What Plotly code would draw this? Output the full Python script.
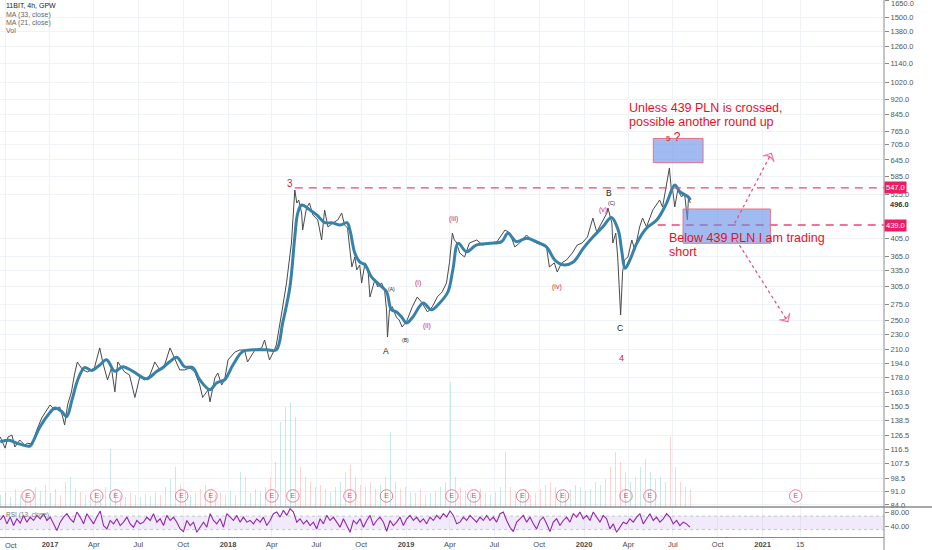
import numpy as np
import pandas as pd
import plotly.graph_objects as go

# ---------------- data ----------------
price_dates = [
    "2016-09-21", "2016-10-01", "2016-10-07", "2016-10-15", "2016-10-21", "2016-10-31", "2016-11-10", "2016-11-16",
    "2016-11-26", "2016-12-05", "2016-12-15", "2016-12-23", "2017-01-01", "2017-01-11", "2017-01-21", "2017-01-27",
    "2017-01-31", "2017-02-06", "2017-02-14", "2017-02-20", "2017-02-26", "2017-03-09", "2017-03-19", "2017-04-02",
    "2017-04-13", "2017-04-19", "2017-04-29", "2017-05-07", "2017-05-14", "2017-05-20", "2017-06-03", "2017-06-13",
    "2017-06-24", "2017-07-04", "2017-07-14", "2017-07-25", "2017-08-04", "2017-08-14", "2017-08-24", "2017-09-04",
    "2017-09-14", "2017-09-24", "2017-10-04", "2017-10-15", "2017-10-25", "2017-11-04", "2017-11-10", "2017-11-21",
    "2017-11-25", "2017-12-05", "2017-12-11", "2017-12-19", "2017-12-25", "2018-01-01", "2018-01-15", "2018-01-25",
    "2018-02-04", "2018-02-10", "2018-02-25", "2018-03-11", "2018-03-17", "2018-03-27", "2018-04-06", "2018-04-10",
    "2018-04-21", "2018-05-01", "2018-05-11", "2018-05-18", "2018-05-22", "2018-05-26", "2018-06-01", "2018-06-03",
    "2018-06-11", "2018-06-17", "2018-06-24", "2018-07-04", "2018-07-12", "2018-07-18", "2018-07-25", "2018-08-04",
    "2018-08-14", "2018-08-22", "2018-08-28", "2018-09-03", "2018-09-08", "2018-09-12", "2018-09-18", "2018-09-22",
    "2018-09-28", "2018-10-02", "2018-10-09", "2018-10-15", "2018-10-19", "2018-10-29", "2018-11-04", "2018-11-12",
    "2018-11-18", "2018-11-22", "2018-11-24", "2018-11-28", "2018-12-04", "2018-12-12", "2018-12-18", "2018-12-24",
    "2019-01-02", "2019-01-08", "2019-01-14", "2019-01-24", "2019-02-03", "2019-02-14", "2019-02-24", "2019-03-06",
    "2019-03-16", "2019-03-25", "2019-03-31", "2019-04-06", "2019-04-10", "2019-04-14", "2019-04-21", "2019-05-01",
    "2019-05-11", "2019-05-26", "2019-06-07", "2019-06-22", "2019-07-06", "2019-07-23", "2019-08-02", "2019-08-12",
    "2019-08-22", "2019-09-05", "2019-09-15", "2019-09-25", "2019-10-07", "2019-10-16", "2019-10-22", "2019-11-01",
    "2019-11-07", "2019-11-16", "2019-11-26", "2019-12-08", "2019-12-18", "2019-12-28", "2020-01-08", "2020-01-19",
    "2020-01-27", "2020-02-06", "2020-02-17", "2020-02-19", "2020-02-27", "2020-02-29", "2020-03-06", "2020-03-10",
    "2020-03-12", "2020-03-16", "2020-03-20", "2020-03-24", "2020-03-31", "2020-04-08", "2020-04-14", "2020-04-24",
    "2020-04-30", "2020-05-08", "2020-05-21", "2020-06-04", "2020-06-10", "2020-06-18", "2020-06-24", "2020-06-28",
    "2020-06-30", "2020-07-05", "2020-07-11", "2020-07-19", "2020-07-25", "2020-07-31", "2020-08-02", "2020-08-06",
]
price_close = [
    125.5, 117.5, 125.5, 127.0, 118.3, 123.3, 119.7, 121.0,
    120.4, 130.8, 140.4, 145.4, 151.6, 147.2, 149.8, 141.3,
    134.7, 151.6, 163.8, 181.0, 195.5, 186.5, 184.3, 188.7,
    212.4, 195.5, 175.8, 188.7, 163.8, 195.5, 184.3, 181.0,
    158.5, 178.9, 175.8, 181.0, 195.5, 186.5, 192.0, 212.4,
    200.0, 186.5, 186.5, 188.7, 184.3, 170.6, 158.5, 165.7,
    154.4, 177.9, 183.2, 170.6, 175.8, 197.8, 207.3, 209.8,
    209.8, 195.5, 209.8, 212.4, 222.6, 197.8, 209.8, 216.1,
    261.0, 311.8, 394.8, 539.9, 500.0, 508.9, 471.3, 426.3,
    485.5, 500.0, 465.8, 452.2, 401.9, 479.8, 433.9, 444.4,
    452.2, 471.3, 439.1, 431.4, 378.8, 342.7, 363.5, 336.6,
    346.7, 311.8, 351.0, 336.6, 287.0, 317.3, 304.5, 311.8,
    299.1, 265.8, 226.6, 265.8, 271.0, 255.0, 250.5, 240.4,
    248.3, 261.0, 271.0, 287.0, 277.0, 262.6, 271.0, 287.0,
    295.6, 311.8, 351.0, 418.8, 401.9, 397.1, 372.1, 363.5,
    394.8, 401.9, 390.1, 394.8, 397.1, 426.3, 418.8, 385.6,
    394.8, 413.9, 401.9, 394.8, 390.1, 385.6, 342.7, 351.0,
    332.7, 351.0, 357.1, 372.1, 390.1, 394.8, 409.0, 457.5,
    421.3, 444.4, 471.3, 485.5, 444.4, 394.8, 418.8, 363.5,
    317.3, 258.0, 332.7, 357.1, 363.5, 401.9, 378.8, 434.2,
    457.5, 434.2, 479.8, 508.9, 488.3, 562.7, 615.0, 539.9,
    549.6, 488.3, 539.9, 518.0, 530.5, 452.2, 515.0, 500.0,
]

ma_dates = [
    "2016-09-21", "2016-10-11", "2016-10-25", "2016-11-21", "2016-11-27", "2016-12-11", "2017-01-01", "2017-01-11",
    "2017-01-25", "2017-02-04", "2017-02-15", "2017-02-27", "2017-03-13", "2017-03-28", "2017-04-13", "2017-04-27",
    "2017-05-14", "2017-05-30", "2017-06-20", "2017-07-18", "2017-08-08", "2017-08-20", "2017-09-04", "2017-09-18",
    "2017-10-04", "2017-10-21", "2017-11-04", "2017-11-25", "2017-12-09", "2017-12-25", "2018-01-11", "2018-01-31",
    "2018-02-21", "2018-03-22", "2018-04-10", "2018-04-23", "2018-05-08", "2018-05-18", "2018-05-24", "2018-06-01",
    "2018-06-18", "2018-07-02", "2018-07-19", "2018-08-02", "2018-08-19", "2018-09-02", "2018-09-08", "2018-09-18",
    "2018-09-28", "2018-10-09", "2018-10-22", "2018-11-08", "2018-11-22", "2018-12-02", "2018-12-12", "2018-12-23",
    "2019-01-02", "2019-01-15", "2019-02-05", "2019-02-22", "2019-03-11", "2019-03-28", "2019-04-07", "2019-04-18",
    "2019-05-05", "2019-05-25", "2019-06-22", "2019-07-16", "2019-07-29", "2019-08-15", "2019-09-05", "2019-09-25",
    "2019-10-16", "2019-11-02", "2019-11-19", "2019-12-10", "2019-12-30", "2020-01-20", "2020-02-09", "2020-02-26",
    "2020-03-11", "2020-03-18", "2020-03-25", "2020-04-04", "2020-04-18", "2020-05-08", "2020-05-29", "2020-06-18",
    "2020-07-05", "2020-07-15", "2020-08-01", "2020-08-06",
]
ma_values = [
    122, 123, 121, 119, 122, 133, 145, 149,
    146, 141.5, 156, 176, 189, 186, 192, 198,
    185, 190, 185, 177, 185, 189, 196, 201,
    190, 189, 176, 166, 173, 176, 192, 208,
    210, 210, 210, 246, 305, 410, 471, 494,
    480, 466, 445, 445, 439, 445, 426, 372,
    353, 347, 323, 308, 296, 266, 263, 255,
    246, 255, 277, 266, 277, 296, 337, 394,
    375, 390, 394, 398, 418, 398, 406, 398,
    386, 357, 347, 353, 382, 410, 435, 459,
    426, 379, 340, 357, 394, 431, 452, 499,
    556, 535, 519, 509,
]

rsi_values = [
    59, 72, 47, 67, 42, 62, 49, 72, 52, 67, 57, 72, 62, 77, 57, 67, 47, 27, 52, 67,
    77, 62, 52, 82, 67, 47, 77, 62, 47, 67, 85, 42, 32, 57, 47, 62, 42, 52, 67, 47,
    37, 57, 47, 52, 67, 57, 77, 52, 62, 42, 72, 57, 67, 52, 32, 24, 57, 42, 52, 22,
    37, 52, 37, 77, 57, 47, 62, 37, 77, 67, 57, 72, 52, 67, 52, 57, 47, 62, 52, 67,
    42, 57, 77, 82, 67, 87, 72, 92, 82, 52, 62, 47, 57, 42, 52, 32, 62, 47, 72, 57,
    67, 52, 37, 62, 42, 22, 57, 47, 62, 37, 57, 72, 42, 57, 67, 52, 25, 57, 42, 52,
    67, 42, 62, 72, 57, 67, 52, 62, 47, 67, 57, 72, 62, 77, 67, 85, 72, 47,
    52, 67, 57, 72, 62, 52, 67, 57, 72, 57, 67, 52, 77, 82, 57, 37, 24, 52, 62, 72,
    52, 67, 47, 32, 57, 67, 47, 24, 52, 62, 42, 57, 67, 52, 77, 67, 82, 62, 72, 57,
    82, 67, 52, 72, 62, 32, 47, 22, 37, 52, 47, 62, 52, 67, 77, 47, 62, 77, 57, 67,
    52, 62, 77, 67, 47, 57, 42, 52, 47, 37,
]
rsi_first, rsi_last = "2016-09-21", "2020-08-05"

vol_values = [
    12, 15, 10, 18, 12, 14, 10, 20, 16, 22, 14, 18, 12, 25, 30, 18, 15, 12, 10, 14,
    12, 20, 58, 16, 12, 10, 14, 12, 10, 13, 11, 15, 12, 20, 28, 40, 22, 15, 12, 14,
    18, 22, 16, 12, 14, 12, 16, 12, 35, 30, 14, 18, 16, 20, 30, 45, 85, 100, 105, 90,
    40, 30, 25, 20, 22, 18, 15, 20, 25, 35, 42, 30, 22, 20, 25, 18, 22, 30, 75, 25,
    18, 20, 15, 14, 18, 12, 14, 16, 20, 25, 125, 30, 20, 16, 14, 12, 18, 14, 12, 15,
    20, 55, 20, 16, 14, 18, 12, 14, 18, 22, 25, 20, 16, 14, 18, 22, 20, 16, 18, 25,
    22, 28, 40, 55, 45, 35, 25, 30, 40, 48, 35, 28, 30, 25, 70, 40, 25, 20, 18,
]
vol_first, vol_last = "2016-09-21", "2020-08-06"

earnings_dates = [
    "2016-11-17", "2017-04-07", "2017-05-16", "2017-09-28", "2017-11-27", "2018-04-01", "2018-05-14", "2018-09-08",
    "2018-11-22", "2019-04-05", "2019-05-20", "2019-08-28", "2019-11-18", "2020-03-27", "2020-05-15", "2021-03-10",
]

price_ticks = [1650, 1500, 1380, 1260, 1140, 1020, 920, 845, 765, 705, 645, 585, 525, 405, 365, 335, 305, 275,
               250, 230, 210, 194, 178, 163, 150.5, 138.5, 126.5, 116.5, 107.5, 98.5, 91, 84]
x_tick_dates = ["2016-10-01", "2017-01-01", "2017-04-01", "2017-07-01", "2017-10-01", "2018-01-01", "2018-04-01",
                "2018-07-01", "2018-10-01", "2019-01-01", "2019-04-01", "2019-07-01", "2019-10-01", "2020-01-01",
                "2020-04-01", "2020-07-01", "2020-10-01", "2021-01-01", "2021-03-19"]
x_tick_labels = ["Oct", "<b>2017</b>", "Apr", "Jul", "Oct", "<b>2018</b>", "Apr", "Jul", "Oct", "<b>2019</b>", "Apr",
                 "Jul", "Oct", "<b>2020</b>", "Apr", "Jul", "Oct", "<b>2021</b>", "15"]
rsi_ticks = [40, 80]

# drawings (levels and zones drawn by the author)
level_wave3, level_wave3_start = 547.0, "2018-05-18"
level_stop, level_stop_start = 439.0, "2020-05-31"
last_price = 496.0
upper_box_dates, upper_box_prices = ["2020-05-22", "2020-09-01"], [634.4, 732.0]
lower_box_dates, lower_box_prices = ["2020-07-22", "2021-01-17"], [394.2, 482.6]
up_arrow_dates, up_arrow_prices = ["2020-11-05", "2021-01-19"], [443.5, 670.6]
down_arrow_dates, down_arrow_prices = ["2020-11-08", "2021-02-22"], [401.9, 248.0]

x_range = ["2016-09-20 12:00", "2021-09-07"]

# ---------------- layout helpers ----------------
W, H = 932, 550
MR, MB = 48, 13
PW, PH = W - MR, H - MB


def px(x):
    return x / PW


def py(y):
    return (PH - y) / PH


RED = "#e3121f"
WAVE_RED = "#cf2338"
PINK = "#e8487a"
FONT = "Liberation Sans"

fig = go.Figure()

# volume (overlay axis)
vol_dates = pd.date_range(vol_first, vol_last, periods=len(vol_values))
pd_price = pd.to_datetime(price_dates)
lp = np.log(np.array(price_close))
t_price = pd_price.astype("int64").to_numpy() / 1e9
t_vol = vol_dates.astype("int64").to_numpy() / 1e9
lv = np.interp(t_vol, t_price, lp)
lv_prev = np.interp(t_vol - 4 * 86400, t_price, lp)
vol_colors = ["rgba(38,166,154,0.25)" if a >= b else "rgba(239,83,80,0.25)" for a, b in zip(lv, lv_prev)]
fig.add_trace(go.Bar(x=vol_dates, y=vol_values, marker=dict(color=vol_colors, line_width=0),
                     width=2.5 * 86400000, yaxis="y3", hoverinfo="skip"))

# price and MA
fig.add_trace(go.Scatter(x=price_dates, y=price_close, mode="lines",
                         line=dict(color="#4a4a4a", width=1), yaxis="y"))
fig.add_trace(go.Scatter(x=ma_dates, y=ma_values, mode="lines", line_shape="spline",
                         line=dict(color="#3682a9", width=3), yaxis="y"))

# levels
fig.add_trace(go.Scatter(x=[level_wave3_start, x_range[1]], y=[level_wave3, level_wave3], mode="lines",
                         line=dict(color=PINK, width=1.3, dash="8px,6px"), yaxis="y"))
fig.add_trace(go.Scatter(x=[level_stop_start, x_range[1]], y=[level_stop, level_stop], mode="lines",
                         line=dict(color=PINK, width=1.3, dash="8px,6px"), yaxis="y"))

# boxes
for bd, bp in [(upper_box_dates, upper_box_prices), (lower_box_dates, lower_box_prices)]:
    fig.add_trace(go.Scatter(x=[bd[0], bd[1], bd[1], bd[0], bd[0]],
                             y=[bp[0], bp[0], bp[1], bp[1], bp[0]],
                             mode="lines", fill="toself", fillcolor="rgba(98,142,232,0.6)",
                             line=dict(color="#e5728f", width=1), yaxis="y"))

# arrows
for ad, ap in [(up_arrow_dates, up_arrow_prices), (down_arrow_dates, down_arrow_prices)]:
    fig.add_trace(go.Scatter(x=ad, y=ap, mode="lines+markers",
                             line=dict(color=PINK, width=1.2, dash="dot"),
                             marker=dict(symbol="arrow-wide-open", angleref="previous", size=[0, 9],
                                         color=PINK, line=dict(color=PINK, width=1.2)),
                             yaxis="y"))

# earnings markers
fig.add_trace(go.Scatter(x=earnings_dates, y=[88.6] * len(earnings_dates), mode="markers+text",
                         text=["E"] * len(earnings_dates), textposition="middle center",
                         textfont=dict(size=7, color="#e0415a", family=FONT),
                         marker=dict(size=12.5, color="white", line=dict(color="#ec7f93", width=1)),
                         yaxis="y"))

# RSI pane
fig.add_trace(go.Scatter(x=x_range, y=[70, 70], mode="lines", line=dict(color="rgba(0,0,0,0)", width=0),
                         yaxis="y2", hoverinfo="skip"))
fig.add_trace(go.Scatter(x=x_range, y=[30, 30], mode="lines", line=dict(color="rgba(0,0,0,0)", width=0),
                         fill="tonexty", fillcolor="rgba(150,90,220,0.13)", yaxis="y2", hoverinfo="skip"))
for lvl in (70, 30):
    fig.add_trace(go.Scatter(x=x_range, y=[lvl, lvl], mode="lines",
                             line=dict(color="#b9b9c4", width=0.8, dash="3px,3px"), yaxis="y2"))
rsi_dates = pd.date_range(rsi_first, rsi_last, periods=len(rsi_values))
fig.add_trace(go.Scatter(x=rsi_dates, y=rsi_values, mode="lines",
                         line=dict(color="#9226ad", width=1.1), yaxis="y2"))

# ---------------- annotations ----------------
ann = []


def txt(text, x, y, size, color, xanchor="center", family=FONT):
    ann.append(dict(text=text, x=px(x), y=py(y), xref="paper", yref="paper", showarrow=False,
                    xanchor=xanchor, yanchor="middle", font=dict(size=size, color=color, family=family)))


txt("11BIT, 4h, GPW", 4, 6, 7, "#222", "left")
txt("MA (33, close)", 4, 15, 7, "#666", "left")
txt("MA (21, close)", 4, 23, 7, "#666", "left")
txt("Vol", 4, 31, 7, "#666", "left")
txt("RSI (13, close)", 4, 515, 6.5, "#777", "left")
# edge labels that the axes themselves would drop
txt(x_tick_labels[0], 3, 545, 7.5, "#4a4a4a", "left")
txt(f"{price_ticks[0]:.1f}", 889, 3, 7.5, "#555", "left")

txt("Unless 439 PLN is crossed,", 627, 107.5, 12.5, RED, "left")
txt("possible another round up", 627, 121.5, 12.5, RED, "left")
txt("Below 439 PLN I am trading", 667, 237.5, 12.5, RED, "left")
txt("short", 667, 251.5, 12.5, RED, "left")
txt("<span style='font-size:8px'>5</span> ?", 673, 137, 12, RED)

txt("3", 290, 183, 10, WAVE_RED)
txt("A", 386, 351, 8.5, "#222")
txt("(A)", 391, 289, 5, "#222")
txt("(B)", 405, 340, 5, "#222")
txt("(i)", 418, 283, 7, WAVE_RED)
txt("(ii)", 427, 326, 7, WAVE_RED)
txt("(iii)", 454, 219, 7, WAVE_RED)
txt("(iv)", 557, 287, 7, WAVE_RED)
txt("(v)", 603, 210, 7, WAVE_RED)
txt("(C)", 611, 203, 5, "#222")
txt("B", 609, 193, 8.5, "#222")
txt("C", 620, 328, 8.5, "#222")
txt("4", 621, 358, 9, WAVE_RED)

for lvl in (level_wave3, level_stop):
    ann.append(dict(text=f"{lvl:.1f}", x=1.0, y=np.log10(lvl), xref="paper", yref="y", showarrow=False,
                    xanchor="left", yanchor="middle", bgcolor="#e91e63", borderpad=1,
                    font=dict(size=7.5, color="white", family=FONT)))
ann.append(dict(text=f"<b>{last_price:.1f}</b>", x=1.0, y=np.log10(last_price), xref="paper", yref="y",
                showarrow=False, xanchor="left", yanchor="middle", bgcolor="white", borderpad=1, xshift=4,
                font=dict(size=7.5, color="#333", family=FONT)))

# ---------------- layout ----------------
y_lo, y_hi = np.log10(83.0), np.log10(1658.6)
main_bottom = py(507)
grid = "#eff2f6"
fig.update_layout(
    width=W, height=H, margin=dict(l=0, r=MR, t=0, b=MB, autoexpand=False),
    paper_bgcolor="white", plot_bgcolor="white", showlegend=False,
    font=dict(family=FONT),
    annotations=ann,
    xaxis=dict(type="date", range=x_range, anchor="y2", tickmode="array", tickvals=x_tick_dates,
               ticktext=x_tick_labels, tickfont=dict(size=7.5, color="#4a4a4a"), ticks="", showgrid=True,
               gridcolor=grid, gridwidth=1, showline=True, linecolor="#888", linewidth=1, zeroline=False,
               automargin=False),
    yaxis=dict(type="log", domain=[main_bottom, 1], range=[y_lo, y_hi], side="right", anchor="x",
               tickmode="array", tickvals=price_ticks, ticktext=[f"{v:.1f}" for v in price_ticks],
               tickfont=dict(size=7.5, color="#555"), ticks="outside", ticklen=4, tickcolor="#888",
               showgrid=True, gridcolor=grid, showline=False, zeroline=False, automargin=False),
    yaxis2=dict(domain=[0, py(508)], range=[8, 94], side="right", anchor="x", tickmode="array",
                tickvals=rsi_ticks, ticktext=[f"{v:.2f}" for v in rsi_ticks],
                tickfont=dict(size=7.5, color="#555"), ticks="outside", ticklen=4, tickcolor="#888",
                showgrid=False, zeroline=False, automargin=False),
    yaxis3=dict(overlaying="y", range=[0, 507], visible=False, side="left", automargin=False),
    bargap=0,
    shapes=[
        dict(type="line", xref="paper", yref="paper", x0=0, x1=W / PW, y0=main_bottom, y1=main_bottom,
             line=dict(color="#8a8a8a", width=1.5)),
        dict(type="line", xref="paper", yref="paper", x0=1, x1=1, y0=-MB / PH, y1=1,
             line=dict(color="#8a8a8a", width=1)),
    ],
)

# remove the browser's default 8px page margin so the figure sits at the window's top-left corner
fig.write_html("out.html", config={"displayModeBar": False},
               post_script="document.body.style.margin='0';document.body.style.overflow='hidden';")
